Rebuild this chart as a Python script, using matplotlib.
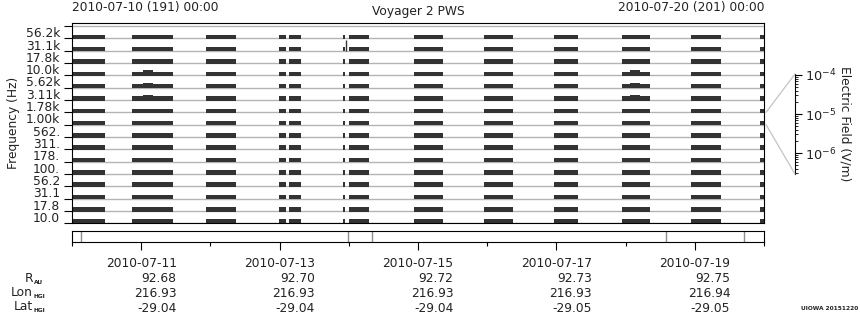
import numpy as np
import matplotlib
matplotlib.use("Agg")
import matplotlib.pyplot as plt
import matplotlib.dates as mdates
from matplotlib.patches import ConnectionPatch
from matplotlib.ticker import FixedLocator, NullFormatter, LogLocator

# time span of the plot
t0 = np.datetime64("2010-07-10T00:00")
t1 = np.datetime64("2010-07-20T00:00")

# frequency channels, bottom to top
freq_labels = ["10.0", "17.8", "31.1", "56.2", "100.", "178.", "311.", "562.",
               "1.00k", "1.78k", "3.11k", "5.62k", "10.0k", "17.8k", "31.1k", "56.2k"]

# tracking passes (hours after 2010-07-10 00:00)
pass_start = [0.0, 20.8, 46.5, 71.8, 75.3, 94.0, 96.1, 118.6, 142.8, 167.2, 190.8, 214.7, 238.6]
pass_end = [11.4, 35.0, 56.9, 74.1, 79.5, 94.7, 103.0, 128.7, 152.9, 175.4, 200.4, 225.1, 240.0]

# short bursts above the background level
burst_band = [12, 11, 10, 12, 11, 10]
burst_start = [24.6, 24.6, 24.6, 193.5, 193.5, 193.5]
burst_end = [28.1, 28.1, 28.1, 197.0, 197.0, 197.0]
burst_level = [0.1, 0.1, 0.1, 0.1, 0.1, 0.1]

# single spike
spike_band = 14
spike_hour = 94.9
spike_level = 0.9

# mode changes shown in the lower strip (hours)
mode_hours = [3.0, 95.6, 104.2, 205.9, 233.2]

# ephemeris
eph_dates = ["2010-07-11", "2010-07-13", "2010-07-15", "2010-07-17", "2010-07-19"]
r_au = [92.68, 92.70, 92.72, 92.73, 92.75]
lon_hgi = [216.93, 216.93, 216.93, 216.93, 216.94]
lat_hgi = [-29.04, -29.04, -29.04, -29.05, -29.05]

# channel linked to the field scale
linked_band = 8
field_min, field_max = 2.9e-7, 1.06e-4

dark = "#333333"
grey = "#b4b4b4"
txt = "#222222"
fs = 8.8
block_lo, block_h = -0.05, 0.36


def hours_to_num(h):
    h = np.atleast_1d(np.asarray(h, dtype=float))
    return mdates.date2num(t0 + (h * 60).astype("timedelta64[m]"))


W, H = 860, 320
fig = plt.figure(figsize=(W / 100, H / 100), dpi=100)

# main panel
ax = fig.add_axes([72 / W, 1 - 223.3 / H, 692 / W, 200 / H])
x0, x1 = mdates.date2num(t0), mdates.date2num(t1)
ax.set_xlim(x0, x1)
ax.set_ylim(0, 16.22)

nb = len(freq_labels)
ax.hlines(np.arange(nb + 1), x0, x1, color=grey, lw=1.0, zorder=1)

s = hours_to_num(pass_start)
e = hours_to_num(pass_end)
spans = list(zip(s, e - s))
for i in range(nb):
    ax.broken_barh(spans, (i + block_lo, block_h), facecolor=dark,
                   edgecolor="none", zorder=2)

bs = hours_to_num(burst_start)
be = hours_to_num(burst_end)
for b, a0, a1, lv in zip(burst_band, bs, be, burst_level):
    ax.broken_barh([(a0, a1 - a0)], (b + block_lo + block_h - 0.02, lv + 0.02),
                   facecolor=dark, edgecolor="none", zorder=2)

ax.vlines(hours_to_num(spike_hour), spike_band, spike_band + spike_level,
          color=dark, lw=1.0, zorder=2)

ax.set_xticks([])
ax.yaxis.set_major_locator(FixedLocator(np.arange(nb + 1)))
ax.yaxis.set_major_formatter(NullFormatter())
ax.yaxis.set_minor_locator(FixedLocator(np.arange(nb) + 0.5))
ax.set_yticklabels(freq_labels, minor=True)
ax.tick_params(axis="y", which="major", length=5.5, width=0.8, direction="out")
ax.tick_params(axis="y", which="minor", length=0, pad=8.5, labelsize=fs,
               labelcolor=txt)
for sp in ax.spines.values():
    sp.set_linewidth(0.8)
ax.set_ylabel("Frequency (Hz)", fontsize=fs, color=txt, labelpad=4)

# lower strip with ephemeris labels
ax2 = fig.add_axes([72 / W, 1 - 242 / H, 692 / W, 11 / H])
ax2.set_xlim(x0, x1)
ax2.set_ylim(0, 1)
ax2.set_yticks([])
ax2.vlines(hours_to_num(mode_hours), 0, 1, color="#8c8c8c", lw=1.0)
for sp in ax2.spines.values():
    sp.set_linewidth(0.8)

major = mdates.date2num(np.array(eph_dates, dtype="datetime64[m]"))
minor = mdates.date2num(np.arange(t0, t1 + np.timedelta64(1, "D"),
                                  np.timedelta64(2, "D")))
ax2.set_xticks(major)
ax2.set_xticks(minor, minor=True)
labels = ["%s\n%.2f\n%.2f\n%.2f" % (d, r, lo, la)
          for d, r, lo, la in zip(eph_dates, r_au, lon_hgi, lat_hgi)]
ax2.set_xticklabels(labels, multialignment="right", linespacing=1.2)
ax2.tick_params(axis="x", which="major", length=5.8, width=0.8, pad=5,
                labelsize=fs, labelcolor=txt)
ax2.tick_params(axis="x", which="minor", length=3.0, width=0.8)

row_names = [("R", "AU"), ("Lon", "HGI"), ("Lat", "HGI")]
for k, (name, sub) in enumerate(row_names):
    yy = 1 - (278 + 14.2 * k) / H
    fig.text(33 / W, yy, name, ha="right", va="center", fontsize=fs, color=txt)
    fig.text(34 / W, yy - 4 / H, sub, ha="left", va="center", fontsize=4.2,
             weight="bold", color=txt)

# electric field scale
cax = fig.add_axes([795 / W, 1 - 174 / H, 0.0001, 100 / H])
cax.set_yscale("log")
cax.set_ylim(field_min, field_max)
cax.set_xticks([])
for k in ["top", "bottom", "right"]:
    cax.spines[k].set_visible(False)
cax.spines["left"].set_linewidth(0.8)
cax.yaxis.tick_right()
cax.yaxis.set_major_locator(LogLocator(base=10))
cax.yaxis.set_minor_locator(LogLocator(base=10, subs=np.arange(2, 10)))
cax.tick_params(axis="y", which="major", length=5, width=0.8, pad=2,
                labelsize=fs + 0.5, labelcolor=txt)
cax.tick_params(axis="y", which="minor", length=2.5, width=0.6)
cax.yaxis.set_label_position("right")
cax.set_ylabel("Electric Field (V/m)", rotation=270, fontsize=fs, color=txt,
               labelpad=11)

for yb, yc in [(linked_band + 1, 1), (linked_band, 0)]:
    con = ConnectionPatch(xyA=(1.003, yb), coordsA=ax.get_yaxis_transform(),
                          xyB=(-0.5, yc), coordsB=cax.transAxes,
                          color="#c4c4c4", lw=0.9)
    fig.add_artist(con)

# header texts
fig.text(72 / W, 1 - 8 / H, "2010-07-10 (191) 00:00", ha="left", va="center",
         fontsize=fs, color=txt)
fig.text(764 / W, 1 - 8 / H, "2010-07-20 (201) 00:00", ha="right", va="center",
         fontsize=fs, color=txt)
fig.text(418 / W, 1 - 11 / H, "Voyager 2 PWS", ha="center", va="center",
         fontsize=fs, color=txt)
fig.text(858 / W, 1 - 309 / H, "UIOWA 20151220", ha="right", va="center",
         fontsize=4.2, weight="bold", color=txt)

fig.savefig("out.png", dpi=100)
